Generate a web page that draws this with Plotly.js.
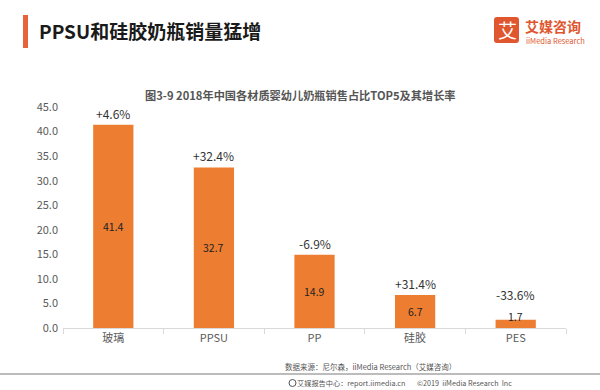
<!DOCTYPE html>
<html>
<head>
<meta charset="utf-8">
<script src="https://cdn.plot.ly/plotly-3.0.1.min.js"></script>
<style>
html,body{margin:0;padding:0;background:#fff;}
#chart{width:600px;height:390px;}
</style>
</head>
<body>
<div id="chart"></div>
<script>
const categories = ["玻璃", "PPSU", "PP", "硅胶", "PES"];
const shareValues = [41.4, 32.7, 14.9, 6.7, 1.7];
const growthLabels = ["+4.6%", "+32.4%", "-6.9%", "+31.4%", "-33.6%"];
const yTickVals = [0, 5, 10, 15, 20, 25, 30, 35, 40, 45];

const FONT = '"Noto Sans CJK SC", "Noto Sans", sans-serif';

const trace = {
  type: 'bar',
  x: categories,
  y: shareValues,
  width: 0.4,
  marker: {color: '#ED7D31'},
  cliponaxis: false,
  hoverinfo: 'none'
};

const annotations = [];
categories.forEach((c, i) => {
  const small = shareValues[i] < 3;
  annotations.push({
    x: c, y: shareValues[i] / 2, xref: 'x', yref: 'y',
    yshift: small ? 7 : 0,
    text: shareValues[i].toFixed(1), showarrow: false,
    font: {family: FONT, size: 10.5, color: '#222222'}
  });
  // growth label above bar; the smallest bar's label is lifted to clear its value label
  annotations.push({
    x: c, y: shareValues[i], xref: 'x', yref: 'y', yanchor: 'bottom',
    yshift: small ? 15 : 1,
    text: growthLabels[i], showarrow: false,
    font: {family: FONT, size: 12, color: '#333333'}
  });
});
const nBase = annotations.length;
annotations.push({
  xref: 'paper', yref: 'paper', x: 0.5, y: 1.07, xanchor: 'center', yanchor: 'middle',
  text: '<b>图3-9 2018年中国各材质婴幼儿奶瓶销售占比TOP5及其增长率</b>', showarrow: false,
  font: {family: FONT, size: 11.2, color: '#555555'}
});
annotations.push({
  xref: 'paper', yref: 'paper', x: -0.05, y: 1, xanchor: 'left', yanchor: 'middle',
  text: '<b>PPSU和硅胶奶瓶销量猛增</b>', showarrow: false,
  font: {family: FONT, size: 19, color: '#1a1a1a'}
});
annotations.push({
  xref: 'paper', yref: 'paper', x: 1, y: 0, xanchor: 'right', yanchor: 'middle',
  text: '数据来源：尼尔森，iiMedia Research（艾媒咨询）', showarrow: false,
  font: {family: FONT, size: 7.5, color: '#555555'}
});
annotations.push({
  xref: 'paper', yref: 'paper', x: 1, y: 0, xanchor: 'right', yanchor: 'middle',
  text: '艾媒报告中心：report.iimedia.cn', showarrow: false,
  font: {family: FONT, size: 7.2, color: '#555555'}
});
annotations.push({
  xref: 'paper', yref: 'paper', x: 1, y: 0, xanchor: 'right', yanchor: 'middle',
  text: '©2019  iiMedia Research  Inc', showarrow: false,
  font: {family: FONT, size: 7.2, color: '#555555'}
});
annotations.push({
  xref: 'paper', yref: 'paper', x: 1, y: 1, xanchor: 'center', yanchor: 'middle',
  text: '艾', showarrow: false,
  font: {family: FONT, size: 19, color: '#ffffff'}
});
annotations.push({
  xref: 'paper', yref: 'paper', x: 1, y: 1, xanchor: 'left', yanchor: 'middle',
  text: '<b>艾媒咨询</b>', showarrow: false,
  font: {family: FONT, size: 14, color: '#E0562E'}
});
annotations.push({
  xref: 'paper', yref: 'paper', x: 1, y: 1, xanchor: 'left', yanchor: 'middle',
  text: 'iiMedia Research', showarrow: false,
  font: {family: FONT, size: 7.5, color: '#E0562E'}
});

const layout = {
  width: 600, height: 390,
  margin: {l: 63, r: 34, t: 107, b: 62},
  paper_bgcolor: '#ffffff',
  plot_bgcolor: '#ffffff',
  showlegend: false,
  font: {family: FONT},
  xaxis: {
    type: 'category',
    showline: true, linecolor: '#D9D9D9', linewidth: 1,
    ticks: 'outside', tickson: 'boundaries', ticklen: 5, tickcolor: '#D9D9D9',
    tickfont: {family: FONT, size: 11, color: '#595959'},
    showgrid: false, zeroline: false, fixedrange: true
  },
  yaxis: {
    range: [0, 45], tickvals: yTickVals,
    ticktext: yTickVals.map(v => v.toFixed(1)),
    showgrid: false, zeroline: false, showline: false,
    tickfont: {family: FONT, size: 11, color: '#595959'},
    ticklabelstandoff: 4, fixedrange: true
  },
  annotations: annotations
};

Plotly.newPlot('chart', [trace], layout, {displayModeBar: false, staticPlot: true}).then(gd => {
  const W = 600 - 63 - 34, H = 390 - 107 - 62;
  const px = x => (x - 63) / W;
  const py = y => (390 - 62 - y) / H;
  const ann = gd.layout.annotations.slice();
  const n = nBase;
  ann[n].x = px(300); ann[n].y = py(95);
  ann[n+1].x = px(37); ann[n+1].y = py(31);
  ann[n+2].x = px(458); ann[n+2].y = py(366);
  ann[n+3].x = px(407); ann[n+3].y = py(383);
  ann[n+4].x = px(514); ann[n+4].y = py(383);
  ann[n+5].x = px(507); ann[n+5].y = py(30);
  ann[n+6].x = px(523); ann[n+6].y = py(26);
  ann[n+7].x = px(524); ann[n+7].y = py(41);
  const shapes = [
    {type: 'rect', xref: 'paper', yref: 'paper', x0: px(23), x1: px(28), y0: py(48), y1: py(15), line: {width: 0}, fillcolor: '#E8633A'},
    {type: 'path', xref: 'paper', yref: 'paper',
     path: roundRect(px(494), py(17), px(519), py(43), 3 / W, 3 / H),
     line: {width: 0}, fillcolor: '#E0562E', layer: 'below'},
    {type: 'line', xref: 'paper', yref: 'paper', x0: px(0), x1: px(600), y0: py(374), y1: py(374), line: {color: '#A6A6A6', width: 1.5}},
    {type: 'circle', xref: 'paper', yref: 'paper', x0: px(289), x1: px(296), y0: py(386.5), y1: py(379.5), line: {color: '#555555', width: 1}, fillcolor: 'rgba(0,0,0,0)'}
  ];
  return Plotly.relayout(gd, {annotations: ann, shapes: shapes});
});

function roundRect(x0, y0, x1, y1, rx, ry) {
  return `M ${x0 + rx},${y0} L ${x1 - rx},${y0} Q ${x1},${y0} ${x1},${y0 - ry} L ${x1},${y1 + ry} Q ${x1},${y1} ${x1 - rx},${y1} L ${x0 + rx},${y1} Q ${x0},${y1} ${x0},${y1 + ry} L ${x0},${y0 - ry} Q ${x0},${y0} ${x0 + rx},${y0} Z`;
}
</script>
</body>
</html>
